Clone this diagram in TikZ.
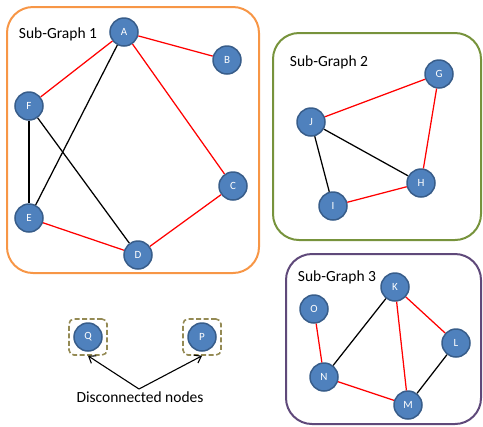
\documentclass[tikz,border=0pt]{standalone}
\usepackage{fontspec}
\setmainfont{Carlito}
\usetikzlibrary{arrows.meta}
\definecolor{nodefill}{HTML}{4F81BD}
\definecolor{nodeline}{HTML}{385D8A}
\definecolor{sgorange}{HTML}{F79646}
\definecolor{sggreen}{HTML}{77933C}
\definecolor{sgpurple}{HTML}{5F497A}
\definecolor{olivedash}{HTML}{948A54}
\definecolor{edgered}{HTML}{FF0000}
\tikzset{
  vert/.style={circle, fill=nodefill, draw=nodeline, line width=1.5bp, minimum size=28bp, inner sep=0pt, text=white, font=\fontsize{11bp}{13bp}\selectfont},
  sgbox/.style={rounded corners=26bp, line width=2bp},
  sglabel/.style={font=\fontsize{15.5bp}{18bp}\selectfont, inner sep=0pt},
  redge/.style={draw=edgered, line width=1.25bp},
  bedge/.style={draw=black, line width=1.25bp},
  dbox/.style={draw=olivedash, dash pattern=on 5bp off 2.5bp, line width=1.6bp, rounded corners=5bp, minimum width=38bp, minimum height=36bp, inner sep=0pt},
  pointer/.style={draw=black, line width=1.1bp, -{Straight Barb[length=6bp,width=9bp]}}
}
\begin{document}
\begin{tikzpicture}[x=1bp,y=-1bp]
\useasboundingbox (0,0) rectangle (483,426);
% boxes
\draw[sgbox, draw=sgorange] (7,7) rectangle (259,273);
\draw[sgbox, draw=sggreen] (273,33) rectangle (481,240);
\draw[sgbox, draw=sgpurple] (286,254) rectangle (481,424);
\node[sglabel] (l1) at (58,34) {Sub-Graph 1};
\node[sglabel] (l2) at (329,62) {Sub-Graph 2};
\node[sglabel] (l3) at (337,277) {Sub-Graph 3};
% sub-graph 1
\node[vert] (A) at (124,32) {A};
\node[vert] (B) at (227,60) {B};
\node[vert] (F) at (29,106) {F};
\node[vert] (C) at (233,186) {C};
\node[vert] (E) at (29,218) {E};
\node[vert] (D) at (138,255) {D};
% sub-graph 2
\node[vert] (G) at (439,74) {G};
\node[vert] (J) at (311,122) {J};
\node[vert] (H) at (421,183) {H};
\node[vert] (I) at (333,206) {I};
% sub-graph 3
\node[vert] (K) at (395,287) {K};
\node[vert] (O) at (314,309) {O};
\node[vert] (L) at (456,343) {L};
\node[vert] (N) at (324,377) {N};
\node[vert] (M) at (408,405) {M};
% disconnected
\node[vert] (Q) at (88,337) {Q};
\node[vert] (P) at (202,337) {P};
\node[dbox] (qbox) at (88,337) {};
\node[dbox] (pbox) at (202,337) {};
\node[sglabel] (dis) at (140,397) {Disconnected nodes};
\coordinate (src) at (139,389);
% edges
\draw[redge] (A) -- (B);
\draw[redge] (A) -- (F);
\draw[redge] (A) -- (C);
\draw[redge] (C) -- (D);
\draw[redge] (E) -- (D);
\draw[bedge] (A) -- (E);
\draw[bedge] (F) -- (E);
\draw[bedge] (F) -- (D);
\draw[redge] (J) -- (G);
\draw[redge] (G) -- (H);
\draw[redge] (I) -- (H);
\draw[bedge] (J) -- (H);
\draw[bedge] (J) -- (I);
\draw[redge] (O) -- (N);
\draw[redge] (K) -- (L);
\draw[redge] (K) -- (M);
\draw[redge] (N) -- (M);
\draw[bedge] (K) -- (N);
\draw[bedge] (L) -- (M);
\draw[pointer] (src) -- (qbox.south);
\draw[pointer] (src) -- (pbox.south);
\end{tikzpicture}
\end{document}
